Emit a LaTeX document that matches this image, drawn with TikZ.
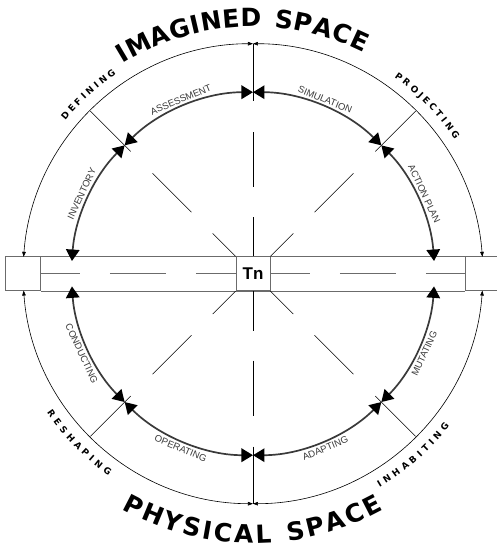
\documentclass[tikz,border=0pt]{standalone}
\usepackage{fontspec}
\setmainfont{Liberation Sans}
\newfontfamily\widefont{DejaVu Sans}
\usepackage{tikz}
\usetikzlibrary{arrows.meta}
\definecolor{bandgray}{HTML}{6B6B6B}
\definecolor{cyclegray}{HTML}{3A3A3A}
\tikzset{
  bandbox/.style={draw=bandgray, line width=0.8pt, minimum width=35pt, minimum height=34pt, inner sep=0pt},
  hub/.style    ={draw=bandgray, fill=white, line width=0.8pt, minimum size=34pt, inner sep=0pt, font=\bfseries\fontsize{17}{17}\selectfont},
  bandline/.style={draw=bandgray, line width=0.8pt},
  ray/.style    ={line width=0.6pt},
  rimarc/.style ={{Triangle[length=5pt,width=3.6pt]}-{Triangle[length=5pt,width=3.6pt]}, line width=0.6pt},
  cycarc/.style ={{Triangle[length=11.5pt,width=13.5pt,color=black]}-{Triangle[length=11.5pt,width=13.5pt,color=black]}, line width=1.7pt, cyclegray},
  arclab/.style ={font=\fontsize{9.5}{9.5}\selectfont, text=cyclegray, inner sep=0pt},
  rimlab/.style ={font=\widefont\bfseries\fontsize{9}{9}\selectfont, inner sep=0pt, anchor=base},
  biglab/.style ={font=\widefont\bfseries\fontsize{25}{25}\selectfont, inner sep=0pt, anchor=base},
}

\begin{document}
\begin{tikzpicture}[x=1pt, y=1pt]
  \useasboundingbox (-253,-276.3) rectangle (244,273.7);
  % band
  \node[bandbox] (lbox) at (-230,0) {};
  \node[bandbox] (rbox) at (230,0) {};
  \draw[bandline] (lbox.north east) -- (rbox.north west);
  \draw[bandline] (lbox.south east) -- (rbox.south west);
  \node[hub] (tn) at (0,0) {Tn};
  % spokes
  \draw[bandline] (lbox.east) -- (180:173) (180:143) -- (180:87) (180:57) -- (tn.west);
  \draw[bandline] (tn.east) -- (0:57) (0:87) -- (0:143) (0:173) -- (rbox.west);
  \foreach \a/\c in {45/north east, 90/north, 135/north west, 225/south west, 270/south, 315/south east}
    \draw[ray] (tn.\c) -- (\a:57) (\a:87) -- (\a:142) (\a:173) -- (\a:230);
  \coordinate (top) at (90:230);
  \coordinate (bot) at (270:230);
  % outer ring
  \draw[rimarc] (top) arc[start angle=90, end angle=175.8, radius=230];
  \draw[rimarc] (top) arc[start angle=90, end angle=4.2, radius=230];
  \draw[rimarc] (bot) arc[start angle=270, end angle=184.2, radius=230];
  \draw[rimarc] (bot) arc[start angle=270, end angle=355.8, radius=230];
  % cycle
  \def\rin{181.5}
  \foreach \s/\e in {176/135, 135/90, 90/45, 45/4, 184/225, 225/270, 270/315, 315/356}
    \draw[cycarc] (\s:\rin) arc[start angle=\s, end angle=\e, radius=\rin];
  \node[arclab, rotate=65]    (inv) at (155:189)   {INVENTORY};
  \node[arclab, rotate=22.5]  (ass) at (112.5:188.5) {ASSESSMENT};
  \node[arclab, rotate=-22.5] (sim) at (67.5:188.5)  {SIMULATION};
  \node[arclab, rotate=-65]   (act) at (25:189)    {ACTION PLAN};
  \node[arclab, rotate=-65]   (con) at (205:189)   {CONDUCTING};
  \node[arclab, rotate=-22.5] (ope) at (247.5:189) {OPERATING};
  \node[arclab, rotate=22.5]  (ada) at (292.5:189) {ADAPTING};
  \node[arclab, rotate=65]    (mut) at (335:189)   {MUTATING};
  % rim words
  \foreach \ch/\a [count=\i] in {D/139.9,E/137.6,F/135.5,I/133.7,N/131.7,I/129.7,N/127.7,G/125.3,
      P/53.5,R/51.2,O/48.8,J/46.8,E/45.0,C/42.8,T/40.6,I/38.8,N/36.8,G/34.4}
    \node[rimlab, rotate=\a-90] (up\i) at (\a:242) {\ch};
  \foreach \ch/\a [count=\i] in {R/214.8,E/217.2,S/219.5,H/222.0,A/224.5,P/226.9,I/228.9,N/231.0,G/233.6,
      I/301.0,N/303.1,H/305.7,A/308.3,B/310.7,I/312.8,T/314.7,I/316.7,N/318.8,G/321.4}
    \node[rimlab, rotate=\a+90] (lo\i) at (\a:248.5) {\ch};
  \foreach \ch/\a [count=\i] in {I/120.7,M/116.6,A/111.4,G/106.7,I/103.1,N/99.45,E/94.95,D/90.46,
      S/82.89,P/78.57,A/74.09,C/69.62,E/65.39}
    \node[biglab, rotate=\a-90] (img\i) at (\a:247) {\ch};
  \foreach \ch/\a [count=\i] in {P/242.8,H/247.5,Y/252.2,S/256.6,I/260.0,C/263.4,A/268.0,L/272.3,
      S/279.4,P/283.8,A/288.3,C/292.9,E/297.2}
    \node[biglab, rotate=\a+90] (phy\i) at (\a:269.5) {\ch};
\end{tikzpicture}
\end{document}
